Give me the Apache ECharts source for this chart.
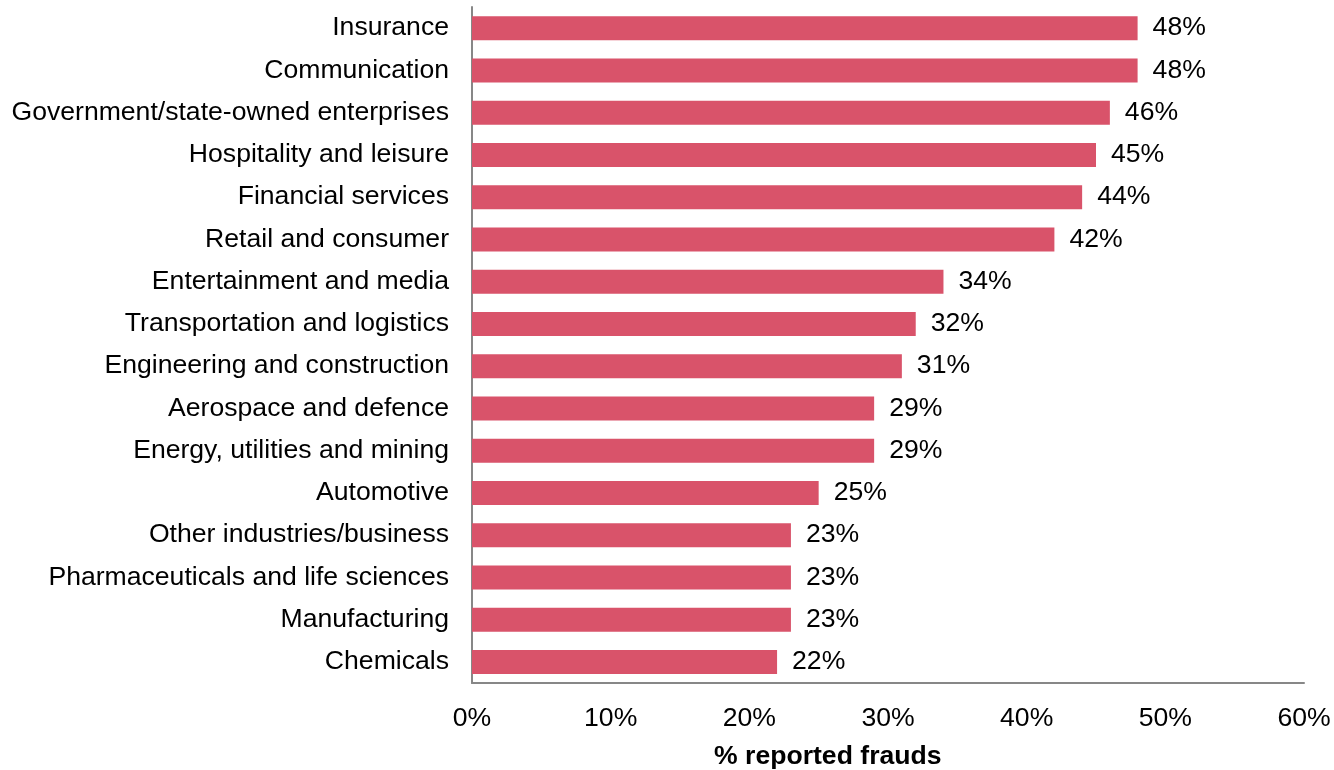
<!DOCTYPE html>
<html>
<head>
<meta charset="utf-8">
<title>% reported frauds</title>
<script src="https://cdn.jsdelivr.net/npm/echarts@6/dist/echarts.min.js"></script>
<style>
    html, body { margin: 0; padding: 0; background: #fff; }
    #chart { width: 1334px; height: 770px; }
</style>
</head>
<body>
<div id="chart"></div>
<script>
// 数据
const industries = [
    'Insurance', 'Communication', 'Government/state-owned enterprises', 'Hospitality and leisure',
    'Financial services', 'Retail and consumer', 'Entertainment and media', 'Transportation and logistics',
    'Engineering and construction', 'Aerospace and defence', 'Energy, utilities and mining', 'Automotive',
    'Other industries/business', 'Pharmaceuticals and life sciences', 'Manufacturing', 'Chemicals',
]
const fraudShare = [48, 48, 46, 45, 44, 42, 34, 32, 31, 29, 29, 25, 23, 23, 23, 22]
const axisTitle = '% reported frauds'

const font = '"Liberation Sans", Arial, sans-serif'
const fontSize = 26.6

const mychart = echarts.init(document.getElementById('chart'))

let option = {
    animation: false,
    // 横轴标题
    title: {
        text: axisTitle,
        left: 714,
        top: 743,
        padding: 0,
        textStyle: { fontFamily: font, fontSize: fontSize, fontWeight: 'bold', color: '#000' },
    },
    grid: {
        left: 472,
        right: 30,
        top: 7,
        bottom: 87,
    },
    xAxis: {
        type: 'value',
        min: 0,
        max: 60,
        interval: 10,
        axisLine: { show: true, lineStyle: { color: '#878787', width: 2 } },
        axisTick: { show: false },
        splitLine: { show: false },
        axisLabel: {
            margin: 22,
            formatter: '{value}%',
            color: '#000',
            fontFamily: font,
            fontSize: fontSize,
        },
    },
    yAxis: {
        type: 'category',
        data: industries,
        // 第一个在最上面
        inverse: true,
        axisLine: { show: true, lineStyle: { color: '#878787', width: 2 } },
        axisTick: { show: false },
        axisLabel: {
            margin: 23,
            color: '#000',
            fontFamily: font,
            fontSize: fontSize,
        },
    },
    series: [
        {
            name: axisTitle,
            type: 'bar',
            data: fraudShare,
            barWidth: 24,
            itemStyle: { color: '#D9536A' },
            label: {
                show: true,
                position: 'right',
                distance: 15,
                formatter: '{c}%',
                color: '#000',
                fontFamily: font,
                fontSize: fontSize,
            },
        },
    ],
}

mychart.setOption(option)
</script>
</body>
</html>
